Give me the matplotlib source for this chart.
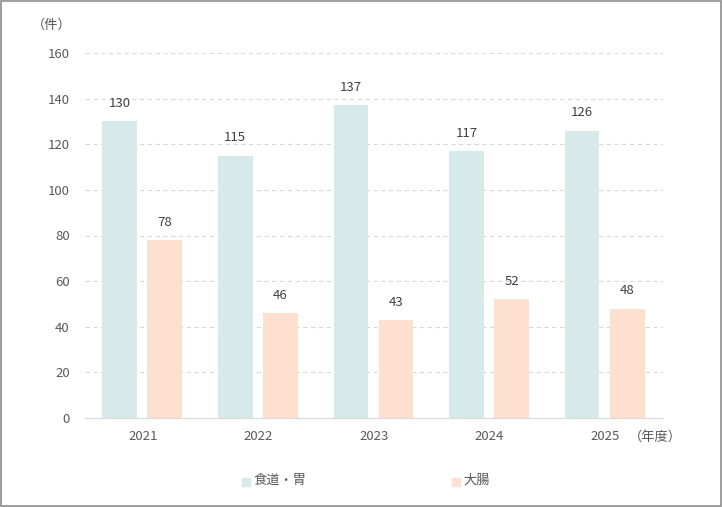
import numpy as np
import matplotlib.pyplot as plt
from matplotlib.patches import Rectangle

plt.rcParams['font.family'] = ['Noto Sans CJK JP', 'DejaVu Sans']

years = ['2021', '2022', '2023', '2024', '2025']
stomach = [130, 115, 137, 117, 126]
colon = [78, 46, 43, 52, 48]
series_names = ['食道・胃', '大腸']

c_blue = '#d6eaeb'
c_orange = '#fde0d0'
txt = '#595959'

fig = plt.figure(figsize=(7.22, 5.07), dpi=100)
fig.patches.append(Rectangle((0.001, 0.001), 0.997, 0.997, transform=fig.transFigure,
                             fill=False, edgecolor='#8c8c8c', linewidth=1.2))

ax = fig.add_axes([85 / 722, 1 - 418 / 507, 578 / 722, 365 / 507])
x = np.arange(len(years))
w = 0.30
b1 = ax.bar(x - 0.2, stomach, w, color=c_blue, label=series_names[0], zorder=2)
b2 = ax.bar(x + 0.19, colon, w, color=c_orange, label=series_names[1], zorder=2)

for bars, vals in ((b1, stomach), (b2, colon)):
    for r, v in zip(bars, vals):
        ax.text(r.get_x() + r.get_width() / 2, v + 5, str(v), ha='center', va='bottom',
                fontsize=9.5, color='#404040')

ax.set_xlim(-0.5, len(years) - 0.5)
ax.set_ylim(0, 160)
ax.set_yticks(range(0, 161, 20))
ax.set_xticks(x)
ax.set_xticklabels(years)
ax.tick_params(length=0, labelsize=9.5, colors=txt)
ax.tick_params(axis='x', pad=9)
ax.tick_params(axis='y', pad=11)
ax.grid(axis='y', color='#d9d9d9', linestyle=(0, (4, 3)), linewidth=0.8, zorder=0)
for s in ['top', 'right', 'left']:
    ax.spines[s].set_visible(False)
ax.spines['bottom'].set_color('#d9d9d9')
ax.spines['bottom'].set_zorder(3)

fig.text(655 / 722, 1 - 437 / 507, '（年度）', ha='center', va='center', fontsize=9.5, color=txt)
fig.text(52 / 722, 1 - 25 / 507, '（件）', ha='center', va='center', fontsize=9.5, color=txt)

# legend
for xp, col, name in ((242, c_blue, series_names[0]), (452, c_orange, series_names[1])):
    fig.patches.append(Rectangle((xp / 722, 1 - 486 / 507), 8 / 722, 8 / 507,
                                 transform=fig.transFigure, color=col))
    fig.text((xp + 11) / 722, 1 - 480 / 507, name, ha='left', va='center', fontsize=9.5, color=txt)

fig.savefig('out.png', dpi=100)
